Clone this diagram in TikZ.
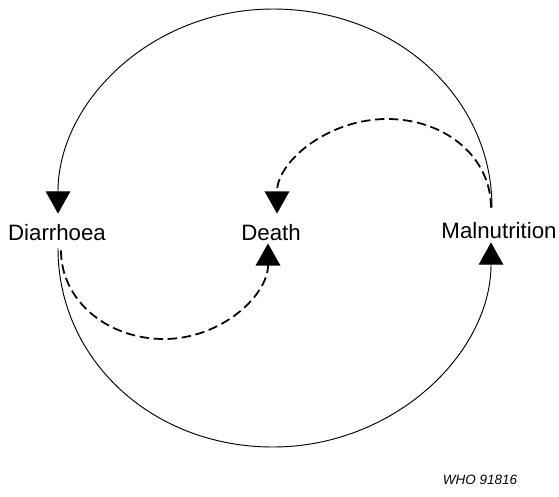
\documentclass[tikz,border=0pt]{standalone}
\usepackage{fontspec}
\setmainfont{Liberation Sans}
\usetikzlibrary{arrows.meta,positioning}

\begin{document}
\begin{tikzpicture}[
  x=0.03cm, y=-0.03cm,
  label/.style={inner sep=0pt, text height=14pt, text depth=0pt, font=\fontsize{19}{22}\selectfont},
  arrow/.style={-{Triangle[width=21pt,length=19pt]}, line width=0.8pt},
  dasharrow/.style={arrow, line width=1.5pt, dash pattern=on 8pt off 4pt}
]
  \useasboundingbox (0,0) rectangle (559,496);
  \node[label] (dia) at (57,232) {Diarrhoea};
  \node[label] (death) at (271,232) {Death};
  \node[label] (mal) at (499,230) {Malnutrition};
  % turning points of the curves
  \coordinate (outtop) at (273,9);
  \coordinate (outbot) at (273,447);
  \coordinate (intop) at (387,119);
  \coordinate (inbot) at (164,339);
  % outer circle
  \draw[arrow] ([shift={(-7,-14)}]mal.north) .. controls +(0,-112) and +(121,0) .. (outtop)
    .. controls +(-121,0) and +(0,-112) .. ([shift={(1,-10)}]dia.north);
  \draw[arrow] ([shift={(1,8)}]dia.south) .. controls +(0,111) and +(-121,0) .. (outbot)
    .. controls +(121,0) and +(0,111) .. ([shift={(-8,4)}]mal.south);
  % inner dashed
  \draw[dasharrow] ([shift={(-8,-14)}]mal.north) .. controls +(0,-50) and +(59,0) .. (intop)
    .. controls +(-59,0) and +(0,-52) .. ([shift={(6,-10)}]death.north);
  \draw[dasharrow] ([shift={(4,10)}]dia.south) .. controls +(0,50) and +(-57,0) .. (inbot)
    .. controls +(57,0) and +(0,52) .. ([shift={(-3,3)}]death.south);
  \node[font=\fontsize{11.5}{13}\selectfont\itshape] (who) at (480,480) {WHO 91816};
\end{tikzpicture}
\end{document}
